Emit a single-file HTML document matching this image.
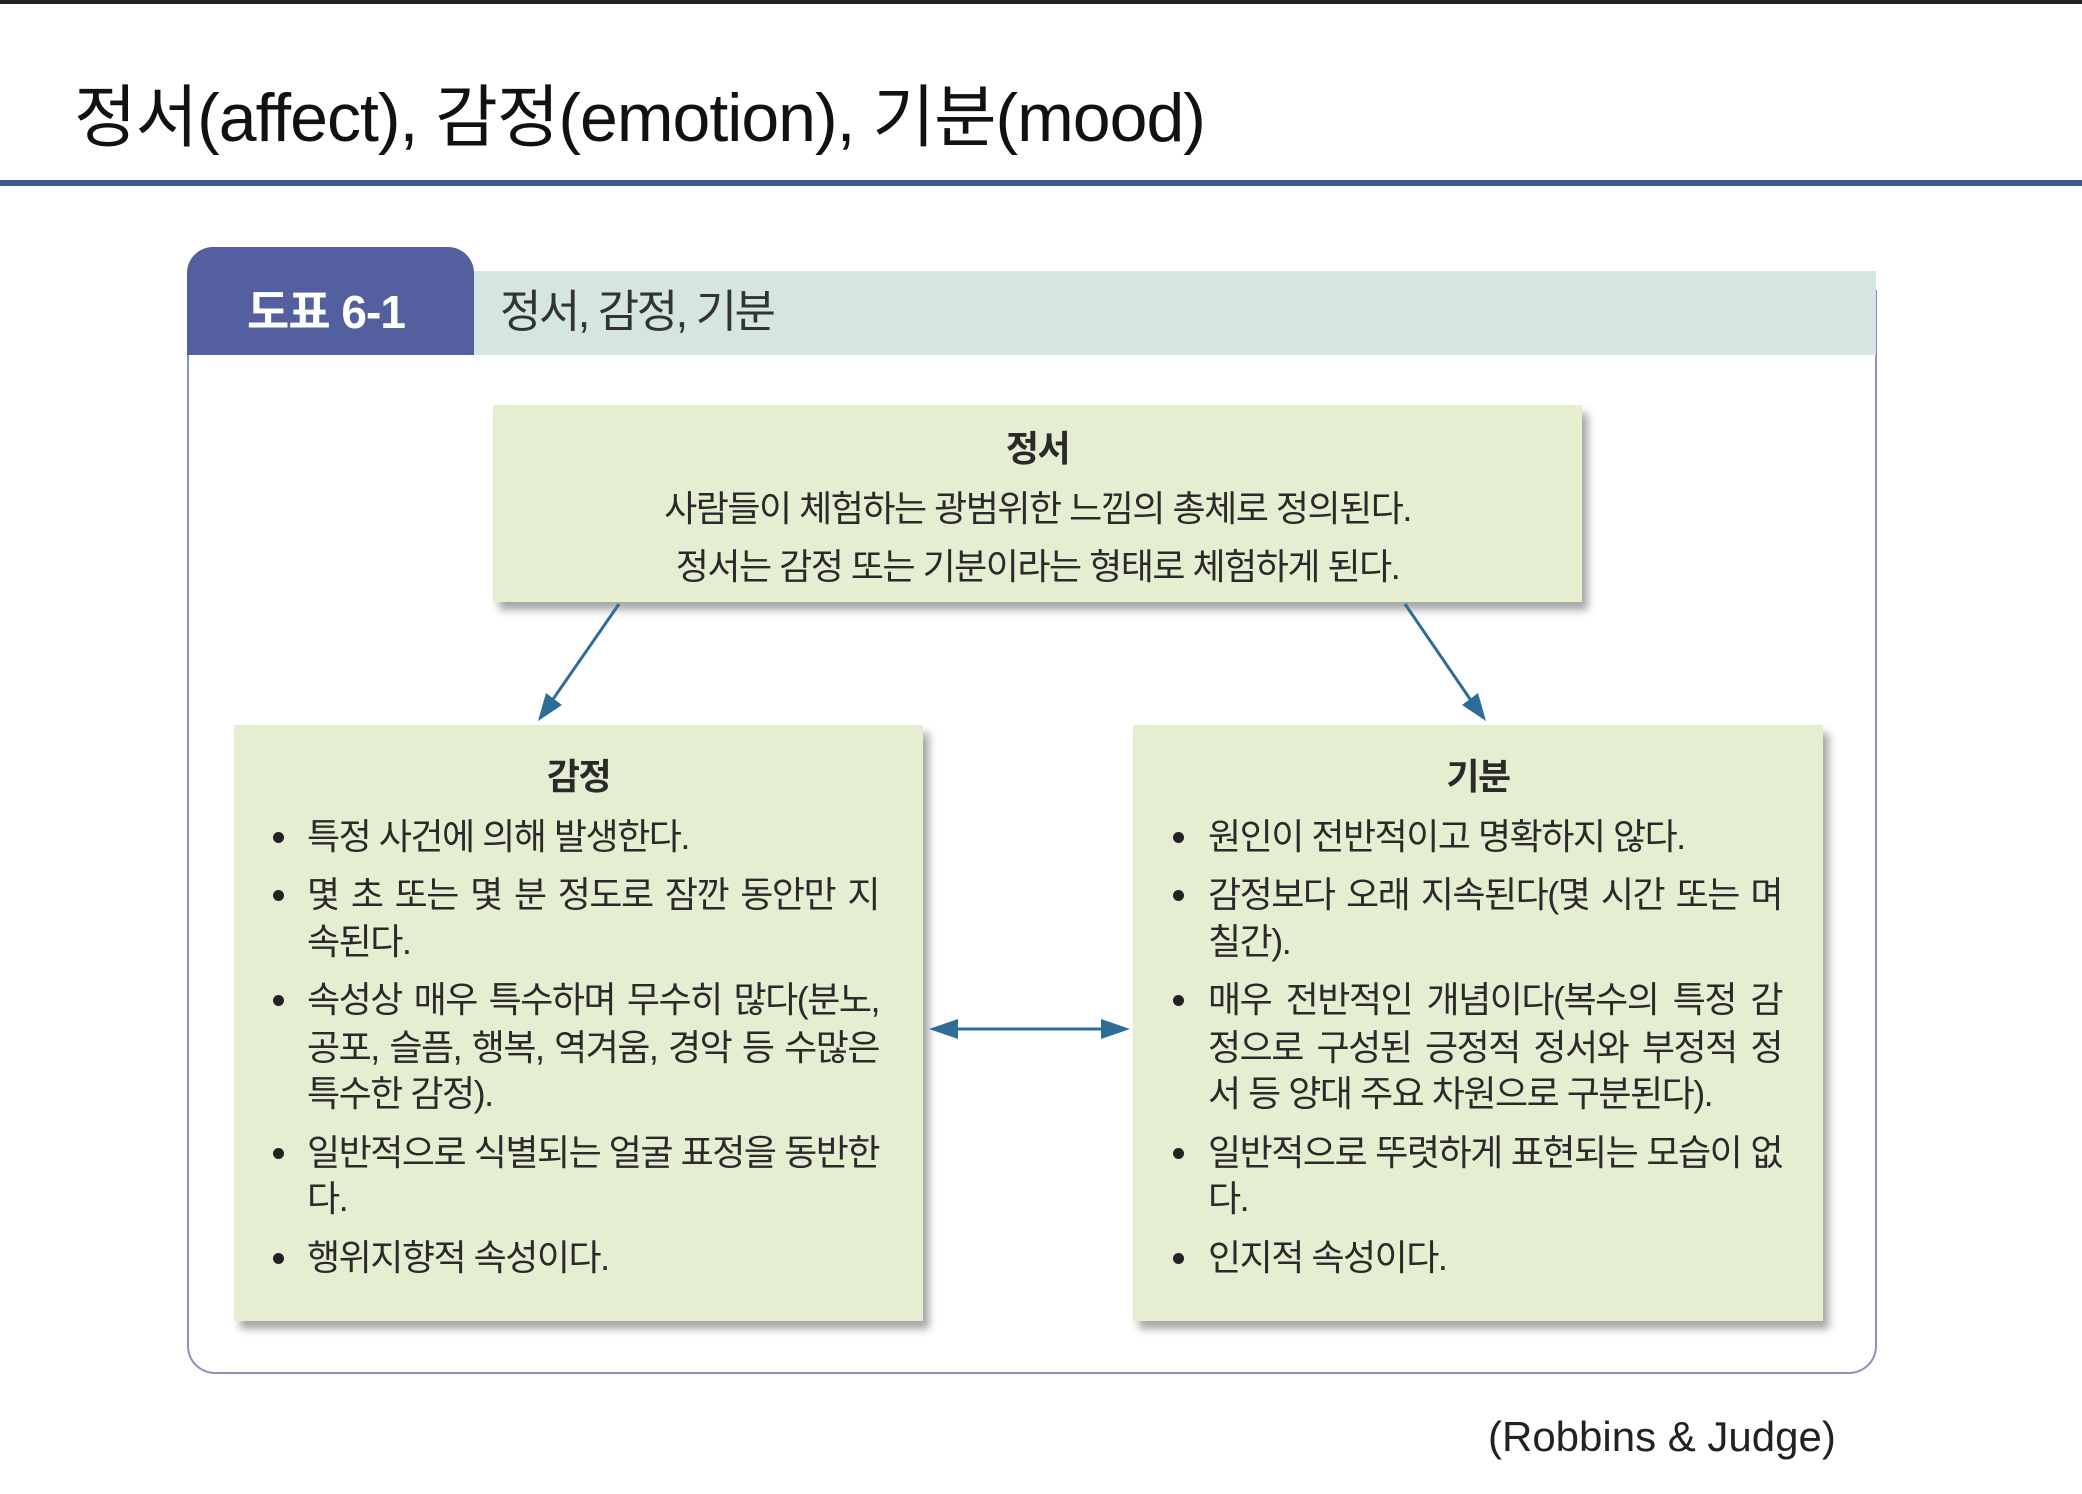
<!DOCTYPE html>
<html><head><meta charset="utf-8"><style>
body{margin:0;width:2082px;height:1494px;background:#fff;position:relative;overflow:hidden;font-family:"Liberation Sans","Noto Sans CJK KR",sans-serif;color:#2a2a2a}
.a{position:absolute;white-space:nowrap}
.box{position:absolute;background:#e6eed1;box-shadow:6px 8px 8px rgba(0,0,0,0.35)}
.t{position:absolute;font-size:36px;line-height:47px;white-space:nowrap;letter-spacing:-1.5px}
.j{text-align:justify;text-align-last:justify}
.b{position:absolute;width:11px;height:11px;border-radius:50%;background:#222}
</style></head><body>
<div class="a" style="left:0;top:0;width:2082px;height:4px;background:#222"></div>
<div class="a" style="left:74px;top:78px;font-size:68px;line-height:80px;letter-spacing:-1px;color:#111">정서(affect), 감정(emotion), 기분(mood)</div>
<div class="a" style="left:0;top:180px;width:2082px;height:6px;background:#3e5a8e"></div>

<div class="a" style="left:187px;top:290px;width:1686px;height:1082px;border:2px solid #8a8fc4;border-top:none;border-radius:0 0 28px 28px"></div>
<div class="a" style="left:474px;top:271px;width:1402px;height:84px;background:#d4e5e2"></div>
<div class="a" style="left:187px;top:247px;width:287px;height:108px;background:#535f9e;border-radius:26px 26px 0 0"></div>
<div class="a" style="left:247px;top:282px;font-size:46px;line-height:60px;font-weight:bold;color:#fff;letter-spacing:-1px">도표 6-1</div>
<div class="a" style="left:500px;top:282px;font-size:45px;line-height:60px;color:#333;letter-spacing:-2.5px">정서, 감정, 기분</div>

<div class="box" style="left:493px;top:405px;width:1089px;height:197px"></div>
<div class="t" style="left:493px;width:1089px;top:425px;text-align:center;font-weight:bold">정서</div>
<div class="t" style="left:493px;width:1089px;top:485px;text-align:center">사람들이 체험하는 광범위한 느낌의 총체로 정의된다.</div>
<div class="t" style="left:493px;width:1089px;top:543px;text-align:center">정서는 감정 또는 기분이라는 형태로 체험하게 된다.</div>

<div class="box" style="left:234px;top:725px;width:689px;height:596px"></div>
<div class="t" style="left:234px;width:689px;top:753px;text-align:center;font-weight:bold">감정</div>
<div class="b" style="left:273px;top:832px"></div>
<div class="t" style="left:307px;top:813px">특정 사건에 의해 발생한다.</div>
<div class="b" style="left:273px;top:890px"></div>
<div class="t j" style="left:307px;width:572px;top:871px">몇 초 또는 몇 분 정도로 잠깐 동안만 지</div>
<div class="t" style="left:307px;top:918px">속된다.</div>
<div class="b" style="left:273px;top:995px"></div>
<div class="t j" style="left:307px;width:572px;top:976px">속성상 매우 특수하며 무수히 많다(분노,</div>
<div class="t j" style="left:307px;width:572px;top:1024px">공포, 슬픔, 행복, 역겨움, 경악 등 수많은</div>
<div class="t" style="left:307px;top:1070px">특수한 감정).</div>
<div class="b" style="left:273px;top:1148px"></div>
<div class="t j" style="left:307px;width:572px;top:1129px">일반적으로 식별되는 얼굴 표정을 동반한</div>
<div class="t" style="left:307px;top:1175px">다.</div>
<div class="b" style="left:273px;top:1253px"></div>
<div class="t" style="left:307px;top:1234px">행위지향적 속성이다.</div>

<div class="box" style="left:1133px;top:725px;width:690px;height:596px"></div>
<div class="t" style="left:1133px;width:690px;top:753px;text-align:center;font-weight:bold">기분</div>
<div class="b" style="left:1173px;top:832px"></div>
<div class="t" style="left:1208px;top:813px">원인이 전반적이고 명확하지 않다.</div>
<div class="b" style="left:1173px;top:890px"></div>
<div class="t j" style="left:1208px;width:574px;top:871px">감정보다 오래 지속된다(몇 시간 또는 며</div>
<div class="t" style="left:1208px;top:918px">칠간).</div>
<div class="b" style="left:1173px;top:995px"></div>
<div class="t j" style="left:1208px;width:574px;top:976px">매우 전반적인 개념이다(복수의 특정 감</div>
<div class="t j" style="left:1208px;width:574px;top:1024px">정으로 구성된 긍정적 정서와 부정적 정</div>
<div class="t" style="left:1208px;top:1070px">서 등 양대 주요 차원으로 구분된다).</div>
<div class="b" style="left:1173px;top:1148px"></div>
<div class="t j" style="left:1208px;width:574px;top:1129px">일반적으로 뚜렷하게 표현되는 모습이 없</div>
<div class="t" style="left:1208px;top:1175px">다.</div>
<div class="b" style="left:1173px;top:1253px"></div>
<div class="t" style="left:1208px;top:1234px">인지적 속성이다.</div>

<svg class="a" style="left:0;top:0" width="2082" height="1494">
<g stroke="#2e6d98" stroke-width="3" fill="none">
<line x1="619" y1="604" x2="540" y2="718"/>
<line x1="1405" y1="604" x2="1483" y2="718"/>
<line x1="945" y1="1029" x2="1115" y2="1029"/>
</g>
<path d="M538,721 L546,693 L562,705 z" fill="#2e6d98"/>
<path d="M1486,721 L1462,705 L1478,693 z" fill="#2e6d98"/>
<path d="M929,1029 L958,1019 L958,1039 z" fill="#2e6d98"/>
<path d="M1130,1029 L1101,1019 L1101,1039 z" fill="#2e6d98"/>
</svg>

<div class="a" style="left:1488px;top:1410px;font-size:42px;line-height:54px;color:#222;letter-spacing:0px">(Robbins &amp; Judge)</div>
</body></html>
